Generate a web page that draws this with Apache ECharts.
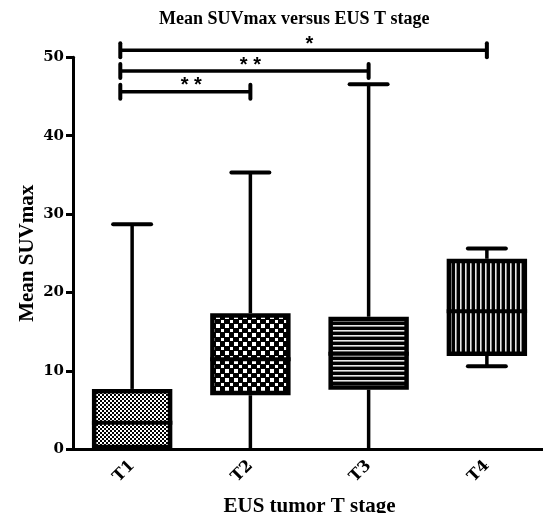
<!DOCTYPE html>
<html><head><meta charset="utf-8">
<script src="https://cdn.jsdelivr.net/npm/echarts@6/dist/echarts.min.js"></script>
<style>html,body{margin:0;padding:0;background:#fff}#chart{width:543px;height:513px}</style>
</head><body><div id="chart"></div>
<script>
// ---- data ----
const categories = ['T1', 'T2', 'T3', 'T4'];
const minValues = [0, 0, 0, 10.6];
const q1Values = [0, 6.9, 7.6, 11.9];
const medianValues = [3.4, 11.5, 12.2, 17.6];
const q3Values = [7.7, 17.35, 16.9, 24.3];
const maxValues = [28.7, 35.3, 46.55, 25.6];
const yTickMin = 0, yTickMax = 50, yTickStep = 10;
const sigFrom = [0, 0, 0];
const sigTo = [1, 2, 3];
const sigLevel = [45.6, 48.25, 50.9];
const sigLabel = ['* *', '* *', '*'];

// ---- fill patterns (style) ----
function makeCanvas(w, h, draw) {
  const c = document.createElement('canvas'); c.width = w; c.height = h;
  draw(c.getContext('2d')); return c;
}
const patterns = [
  makeCanvas(4, 4, g => { g.fillStyle = '#fff'; g.fillRect(0,0,4,4); g.fillStyle = '#000'; g.fillRect(0,0,2,2); g.fillRect(2,2,2,2); }),
  makeCanvas(9, 9, g => { g.fillStyle = '#000'; g.fillRect(0,0,9,9); g.fillStyle = '#fff'; g.fillRect(0,0,4,4); g.fillRect(5,5,3,3); }),
  makeCanvas(4, 5, g => { g.fillStyle = '#000'; g.fillRect(0,0,4,5); g.fillStyle = '#e8e8e8'; g.fillRect(0,0,4,1); g.fillStyle = '#8a8a8a'; g.fillRect(0,1,4,1); }),
  makeCanvas(5, 4, g => { g.fillStyle = '#000'; g.fillRect(0,0,5,4); g.fillStyle = '#e8e8e8'; g.fillRect(0,0,1,4); g.fillStyle = '#8a8a8a'; g.fillRect(1,0,1,4); })
];

const boxData = categories.map((c, i) => [i, minValues[i], q1Values[i], medianValues[i], q3Values[i], maxValues[i]]);
const sigData = sigFrom.map((f, k) => [f, sigTo[k], sigLevel[k], k]);

const serif = '"Liberation Serif", "Times New Roman", serif';
const labelFont = '"DejaVu Serif", serif';

function renderBox(params, api) {
  const i = api.value(0);
  const band = api.size([1, 0])[0];
  const x = api.coord([i, 0])[0];
  const yMin = api.coord([i, api.value(1)])[1];
  const yQ1 = api.coord([i, api.value(2)])[1];
  const yMed = api.coord([i, api.value(3)])[1];
  const yQ3 = api.coord([i, api.value(4)])[1];
  const yMax = api.coord([i, api.value(5)])[1];
  const bw = band * 0.68, cw = band * 0.355, inset = 4.5;
  const ls = { stroke: '#000', lineWidth: 3.5 };
  const cs = { stroke: '#000', lineWidth: 4, lineCap: 'round' };
  const kids = [
    { type: 'line', shape: { x1: x, y1: yQ3, x2: x, y2: yMax }, style: ls },
    { type: 'line', shape: { x1: x, y1: yMin, x2: x, y2: yQ1 }, style: ls },
    { type: 'line', shape: { x1: x - cw / 2 + 2, y1: yMax, x2: x + cw / 2 - 2, y2: yMax }, style: cs }
  ];
  if (api.value(1) > yTickMin) {
    kids.push({ type: 'line', shape: { x1: x - cw / 2 + 2, y1: yMin, x2: x + cw / 2 - 2, y2: yMin }, style: cs });
  }
  kids.push(
    { type: 'rect', shape: { x: x - bw / 2, y: yQ3, width: bw, height: yQ1 - yQ3 }, style: { fill: '#000' } },
    { type: 'rect', shape: { x: x - bw / 2 + inset, y: yQ3 + inset, width: bw - 2 * inset, height: Math.max(0, yQ1 - yQ3 - 2 * inset) },
      style: { fill: { image: patterns[i], repeat: 'repeat' } } },
    { type: 'line', shape: { x1: x - bw / 2, y1: yMed, x2: x + bw / 2, y2: yMed }, style: { stroke: '#000', lineWidth: 4 } }
  );
  return { type: 'group', children: kids };
}

function renderSig(params, api) {
  const band = api.size([1, 0])[0];
  const lvl = api.value(2);
  const p0 = api.coord([api.value(0), lvl]);
  const p1 = api.coord([api.value(1), lvl]);
  const xs = p0[0] - band * 0.1, xe = p1[0], y = p0[1];
  const k = api.value(3);
  return { type: 'group', children: [
    { type: 'line', shape: { x1: xs, y1: y, x2: xe, y2: y }, style: { stroke: '#000', lineWidth: 3.5 } },
    { type: 'line', shape: { x1: xs, y1: y - 7, x2: xs, y2: y + 7 }, style: { stroke: '#000', lineWidth: 4, lineCap: 'round' } },
    { type: 'line', shape: { x1: xe, y1: y - 7, x2: xe, y2: y + 7 }, style: { stroke: '#000', lineWidth: 4, lineCap: 'round' } },
    { type: 'text', x: (p0[0] + xe) / 2, y: y - 6, style: { text: sigLabel[k], fill: '#000', font: 'bold 20px "Liberation Sans", Arial, sans-serif', align: 'center', verticalAlign: 'middle' } }
  ]};
}

const chart = echarts.init(document.getElementById('chart'), null, { renderer: 'canvas' });
chart.setOption({
  animation: false,
  backgroundColor: '#fff',
  title: { text: 'Mean SUVmax versus EUS T stage', left: 154, top: 5,
    textStyle: { fontFamily: serif, fontWeight: 'bold', fontSize: 18, color: '#000' } },
  grid: { left: 73, right: -3, top: 57.3, bottom: 63.7, containLabel: false, outerBoundsMode: 'none' },
  xAxis: {
    type: 'category', data: categories, boundaryGap: true,
    name: 'EUS tumor T stage', nameLocation: 'middle', nameGap: 47,
    nameTextStyle: { fontFamily: serif, fontWeight: 'bold', fontSize: 21, color: '#000' },
    axisLine: { lineStyle: { color: '#000', width: 3 } },
    axisTick: { alignWithLabel: true, length: 7, lineStyle: { color: '#000', width: 3 } },
    axisLabel: { rotate: 45, margin: 14, fontFamily: labelFont, fontWeight: 'bold', fontSize: 16, color: '#000' },
    splitLine: { show: false }
  },
  yAxis: {
    type: 'value', min: yTickMin, max: yTickMax, interval: yTickStep,
    name: 'Mean SUVmax', nameLocation: 'middle', nameGap: 35, nameRotate: 90, nameMoveOverlap: false,
    nameTextStyle: { fontFamily: serif, fontWeight: 'bold', fontSize: 21, color: '#000' },
    axisLine: { show: true, lineStyle: { color: '#000', width: 3 } },
    axisTick: { show: true, length: 7, lineStyle: { color: '#000', width: 3 } },
    axisLabel: { margin: 9, fontFamily: labelFont, fontWeight: 'bold', fontSize: 15, color: '#000' },
    splitLine: { show: false }
  },
  series: [
    { type: 'custom', name: 'box', renderItem: renderBox, data: boxData, encode: { x: 0, y: [1, 2, 3, 4, 5] }, clip: false, z: 3 },
    { type: 'custom', name: 'sig', renderItem: renderSig, data: sigData, encode: { x: [0, 1], y: 2 }, clip: false, z: 3 }
  ]
});
</script></body></html>
